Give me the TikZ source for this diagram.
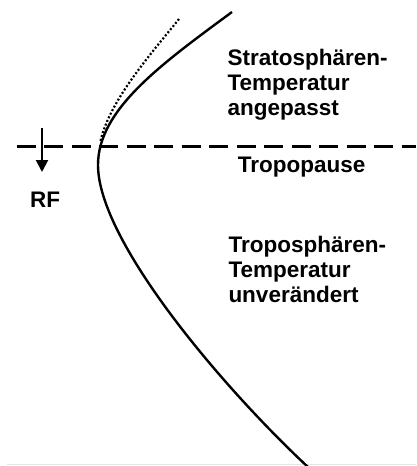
\documentclass[tikz,border=0pt]{standalone}
\usepackage{fontspec}
\setmainfont{Liberation Sans}
\usetikzlibrary{arrows.meta, positioning}

\begin{document}
\begin{tikzpicture}[x=1pt, y=-1pt,
  txt/.style={inner sep=0pt, anchor=base west, align=left,
              font=\bfseries\fontsize{22.5}{24.8}\selectfont},
  profile/.style={line width=2.4pt},
  adjusted/.style={line width=2.2pt, dash pattern=on 2pt off 2pt},
  tropo/.style={line width=3pt, dash pattern=on 19pt off 8.5pt},
  arrow/.style={line width=2pt, -{Triangle[width=12pt,length=12pt]}}
]
\useasboundingbox (0,0) rectangle (416,466);
\fill[white] (0,0) rectangle (416,466);
\draw[gray!20, line width=1.5pt] (7,464.5) -- (416,464.5);
\coordinate (tl) at (16.7,146.5);
\coordinate (tr) at (416,146.5);
\draw[tropo] (tl) -- (tr);
\draw[profile] (232,12) .. controls (160,65) and (98,110) .. (98,165)
  .. controls (98,240) and (220,385) .. (309,468);
\draw[adjusted] (179,19) .. controls (150,55) and (110,100) .. (100.5,141);
\coordinate (rftop) at (42,128);
\coordinate (rfbot) at (42,172);
\draw[arrow] (rftop) -- (rfbot);
\node[txt] (rf) at (30,207.7) {RF};
\node[txt] (strat) at (227.3,115) {Stratosphären-\\Temperatur\\angepasst};
\node[txt] (tpause) at (237.7,172.7) {Tropopause};
\node[txt] (trop) at (228.3,302.5) {Troposphären-\\Temperatur\\unverändert};
\end{tikzpicture}
\end{document}
